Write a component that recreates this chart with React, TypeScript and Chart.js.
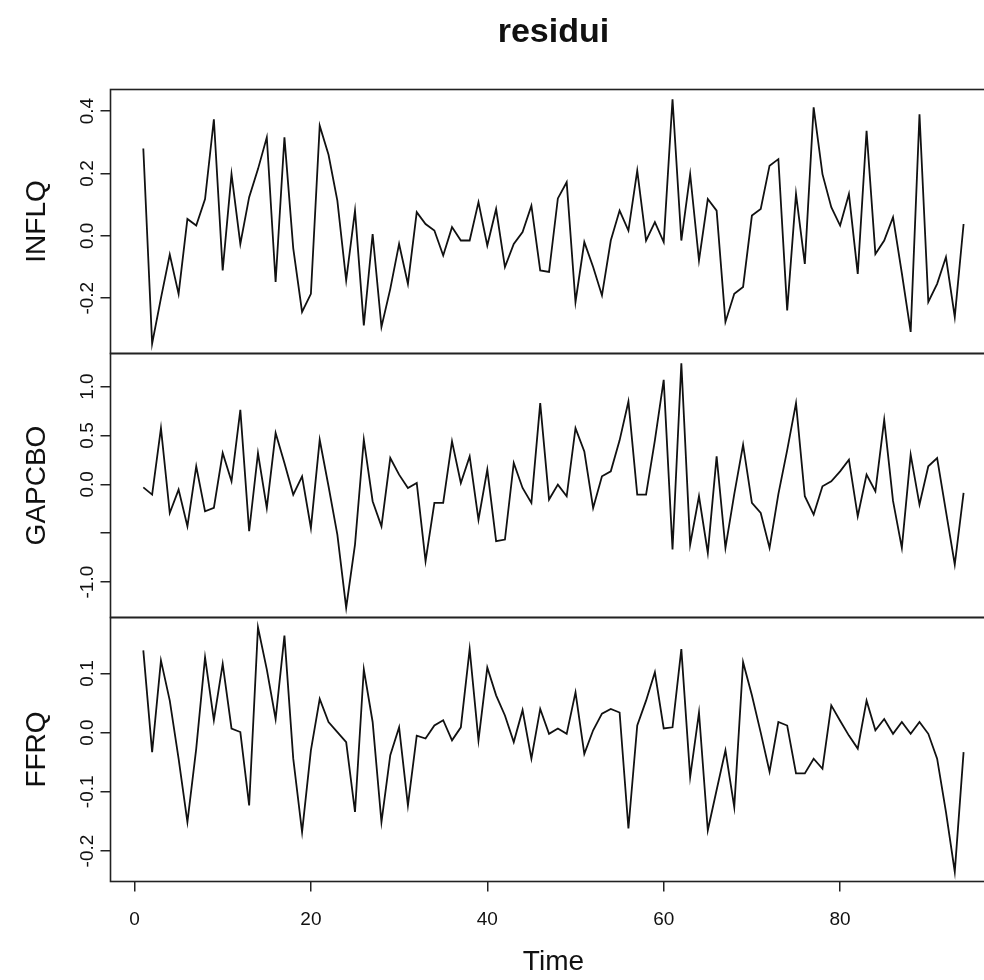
import React, { useEffect, useRef } from 'react';
import { Chart, registerables } from 'chart.js';

Chart.register(...registerables);

// ---------------- data ----------------
const mainTitle = 'residui';
const xTitle = 'Time';

const time = [
  1, 2, 3, 4, 5, 6, 7, 8, 9, 10, 11, 12, 13, 14, 15, 16, 17, 18, 19, 20,
  21, 22, 23, 24, 25, 26, 27, 28, 29, 30, 31, 32, 33, 34, 35, 36, 37, 38, 39, 40,
  41, 42, 43, 44, 45, 46, 47, 48, 49, 50, 51, 52, 53, 54, 55, 56, 57, 58, 59, 60,
  61, 62, 63, 64, 65, 66, 67, 68, 69, 70, 71, 72, 73, 74, 75, 76, 77, 78, 79, 80,
  81, 82, 83, 84, 85, 86, 87, 88, 89, 90, 91, 92, 93, 94,
];

const inflq = [
  0.28, -0.346, -0.2, -0.06, -0.186, 0.054, 0.033, 0.118, 0.374, -0.111,
  0.198, -0.026, 0.124, 0.214, 0.316, -0.148, 0.316, -0.04, -0.244, -0.186,
  0.353, 0.26, 0.113, -0.143, 0.081, -0.287, 0.006, -0.292, -0.17, -0.026,
  -0.154, 0.076, 0.038, 0.017, -0.063, 0.028, -0.015, -0.015, 0.108, -0.031,
  0.086, -0.1, -0.026, 0.012, 0.097, -0.111, -0.116, 0.12, 0.172, -0.212,
  -0.02, -0.1, -0.191, -0.015, 0.081, 0.017, 0.209, -0.015, 0.044, -0.02,
  0.438, -0.015, 0.198, -0.079, 0.118, 0.081, -0.276, -0.186, -0.164, 0.065,
  0.086, 0.225, 0.246, -0.239, 0.134, -0.09, 0.412, 0.198, 0.092, 0.033,
  0.134, -0.122, 0.337, -0.058, -0.015, 0.06, -0.12, -0.308, 0.39, -0.212,
  -0.154, -0.068, -0.26, 0.038,
];

const gapcbo = [
  -0.031, -0.105, 0.574, -0.293, -0.054, -0.429, 0.184, -0.276, -0.241, 0.32,
  0.031, 0.762, -0.48, 0.32, -0.241, 0.524, 0.218, -0.105, 0.082, -0.446,
  0.456, -0.02, -0.514, -1.262, -0.616, 0.456, -0.173, -0.429, 0.269, 0.099,
  -0.037, 0.014, -0.786, -0.19, -0.19, 0.439, 0.014, 0.286, -0.361, 0.15,
  -0.582, -0.565, 0.218, -0.037, -0.19, 0.83, -0.156, -0.003, -0.122, 0.574,
  0.337, -0.241, 0.082, 0.133, 0.45, 0.847, -0.105, -0.105, 0.45, 1.068,
  -0.667, 1.238, -0.616, -0.122, -0.701, 0.286, -0.65, -0.1, 0.405, -0.19,
  -0.293, -0.65, -0.1, 0.35, 0.83, -0.122, -0.31, -0.02, 0.031, 0.133,
  0.252, -0.327, 0.099, -0.071, 0.66, -0.17, -0.65, 0.303, -0.207, 0.184,
  0.269, -0.276, -0.82, -0.088,
];

const ffrq = [
  0.139, -0.033, 0.122, 0.054, -0.044, -0.151, -0.027, 0.127, 0.021, 0.116,
  0.007, 0.001, -0.123, 0.178, 0.107, 0.023, 0.164, -0.044, -0.168, -0.03,
  0.057, 0.018, 0.001, -0.016, -0.134, 0.107, 0.018, -0.151, -0.038, 0.009,
  -0.123, -0.005, -0.01, 0.012, 0.021, -0.013, 0.009, 0.141, -0.013, 0.11,
  0.063, 0.029, -0.016, 0.038, -0.044, 0.04, -0.002, 0.007, -0.002, 0.068,
  -0.036, 0.004, 0.032, 0.04, 0.034, -0.162, 0.012, 0.054, 0.102, 0.007,
  0.009, 0.141, -0.075, 0.034, -0.165, -0.097, -0.03, -0.126, 0.119, 0.063,
  0.0, -0.066, 0.018, 0.012, -0.069, -0.069, -0.044, -0.061, 0.046, 0.02,
  -0.005, -0.027, 0.054, 0.004, 0.023, -0.002, 0.018, -0.002, 0.018, -0.002,
  -0.044, -0.134, -0.235, -0.033,
];

const xTicks = [0, 20, 40, 60, 80];
const xTickLabels = ['0', '20', '40', '60', '80'];

const inflqTicks = [-0.2, 0.0, 0.2, 0.4];
const inflqTickLabels = ['-0.2', '0.0', '0.2', '0.4'];
const gapcboTicks = [-1.0, -0.5, 0.0, 0.5, 1.0];
const gapcboTickLabels = ['-1.0', '', '0.0', '0.5', '1.0'];
const ffrqTicks = [-0.2, -0.1, 0.0, 0.1];
const ffrqTickLabels = ['-0.2', '-0.1', '0.0', '0.1'];

// ---------------- layout / style ----------------
const CANVAS_W = 1010;
const CANVAS_H = 980;
const AREA_LEFT = 110.5;
const AREA_TOP = 89.5;
const AREA_BOTTOM = 881.5;
const AREA_RIGHT = 996.4;
const FONT = '"Liberation Sans", Arial, Helvetica, sans-serif';
const TICK_FONT = 19;
const LAB_FONT = 28;
const TITLE_FONT = 34;
const INK = '#111111';
const FRAME = '#222222';

// R style 4% range extension
function rRange(vals: number[]): [number, number] {
  const lo = Math.min(...vals);
  const hi = Math.max(...vals);
  const d = (hi - lo) * 0.04;
  return [lo - d, hi + d];
}

const panels = [
  { id: 'yTop', title: 'INFLQ', values: inflq, ticks: inflqTicks, labels: inflqTickLabels },
  { id: 'yMid', title: 'GAPCBO', values: gapcbo, ticks: gapcboTicks, labels: gapcboTickLabels },
  { id: 'yBot', title: 'FFRQ', values: ffrq, ticks: ffrqTicks, labels: ffrqTickLabels },
];

const rPlotPlugin = {
  id: 'rPlot',
  afterDraw(chart: any) {
    const ctx: CanvasRenderingContext2D = chart.ctx;
    const area = chart.chartArea;
    const cx = (area.left + area.right) / 2;
    ctx.save();

    // panel frames
    ctx.strokeStyle = FRAME;
    ctx.lineWidth = 1.6;
    panels.forEach((p) => {
      const s = chart.scales[p.id];
      ctx.strokeRect(area.left, s.top, area.right - area.left, s.bottom - s.top);
    });

    ctx.fillStyle = INK;

    // y tick labels (rotated, parallel to axis) and y titles
    panels.forEach((p) => {
      const s = chart.scales[p.id];
      ctx.font = `${TICK_FONT}px ${FONT}`;
      ctx.textAlign = 'center';
      ctx.textBaseline = 'alphabetic';
      p.ticks.forEach((v, i) => {
        const lbl = p.labels[i];
        if (!lbl) return;
        const y = s.getPixelForValue(v);
        ctx.save();
        ctx.translate(area.left - 17.5, y);
        ctx.rotate(-Math.PI / 2);
        ctx.fillText(lbl, 0, 0);
        ctx.restore();
      });
      ctx.font = `${LAB_FONT}px ${FONT}`;
      ctx.save();
      ctx.translate(area.left - 66, (s.top + s.bottom) / 2);
      ctx.rotate(-Math.PI / 2);
      ctx.fillText(p.title, 0, 0);
      ctx.restore();
    });

    // x tick labels
    const xs = chart.scales.x;
    ctx.font = `${TICK_FONT}px ${FONT}`;
    ctx.textAlign = 'center';
    ctx.textBaseline = 'alphabetic';
    xTicks.forEach((v, i) => {
      ctx.fillText(xTickLabels[i], xs.getPixelForValue(v), area.bottom + 43.5);
    });

    // x title
    ctx.font = `${LAB_FONT}px ${FONT}`;
    ctx.fillText(xTitle, cx, area.bottom + 88.5);

    // main title
    ctx.font = `bold ${TITLE_FONT}px ${FONT}`;
    ctx.fillText(mainTitle, cx, 42);

    ctx.restore();
  },
};

export default function App() {
  const ref = useRef<HTMLCanvasElement | null>(null);

  useEffect(() => {
    const canvas = ref.current;
    if (!canvas) return;
    const [xMin, xMax] = rRange(time);

    const scales: any = {
      x: {
        type: 'linear',
        position: 'bottom',
        min: xMin,
        max: xMax,
        bounds: 'data',
        afterBuildTicks: (s: any) => {
          s.ticks = xTicks.map((v) => ({ value: v }));
        },
        afterFit: (s: any) => {
          s.height = CANVAS_H - AREA_BOTTOM;
        },
        ticks: { display: false },
        grid: { display: true, drawOnChartArea: false, drawTicks: true, tickLength: 10, color: FRAME, lineWidth: 1.5 },
        border: { display: false },
      },
    };
    // define bottom first so the stacking places the top panel first
    [...panels].reverse().forEach((p) => {
      const [lo, hi] = rRange(p.values);
      scales[p.id] = {
        type: 'linear',
        position: 'left',
        stack: 'panels',
        stackWeight: 1,
        min: lo,
        max: hi,
        bounds: 'data',
        afterBuildTicks: (s: any) => {
          s.ticks = p.ticks.map((v) => ({ value: v }));
        },
        afterFit: (s: any) => {
          s.width = AREA_LEFT;
        },
        ticks: { display: false },
        grid: { display: true, drawOnChartArea: false, drawTicks: true, tickLength: 10, color: FRAME, lineWidth: 1.5 },
        border: { display: false },
      };
    });

    const chart = new Chart(canvas, {
      type: 'line',
      data: {
        datasets: panels.map((p) => ({
          label: p.title,
          data: time.map((t, i) => ({ x: t, y: p.values[i] })),
          xAxisID: 'x',
          yAxisID: p.id,
          borderColor: INK,
          borderWidth: 1.8,
          pointRadius: 0,
          tension: 0,
          fill: false,
        })),
      },
      options: {
        responsive: false,
        maintainAspectRatio: false,
        animation: false,
        devicePixelRatio: 1,
        layout: {
          padding: { left: 0, top: AREA_TOP, right: CANVAS_W - AREA_RIGHT, bottom: 0 },
        },
        scales,
        plugins: {
          legend: { display: false },
          tooltip: { enabled: false },
          title: { display: false },
        },
      } as any,
      plugins: [rPlotPlugin],
    });
    return () => chart.destroy();
  }, []);

  return (
    <div
      style={{
        position: 'absolute',
        left: 0,
        top: 0,
        width: 984,
        height: 980,
        overflow: 'hidden',
        background: '#ffffff',
      }}
    >
      <canvas ref={ref} width={CANVAS_W} height={CANVAS_H} style={{ display: 'block', width: CANVAS_W, height: CANVAS_H }} />
    </div>
  );
}
